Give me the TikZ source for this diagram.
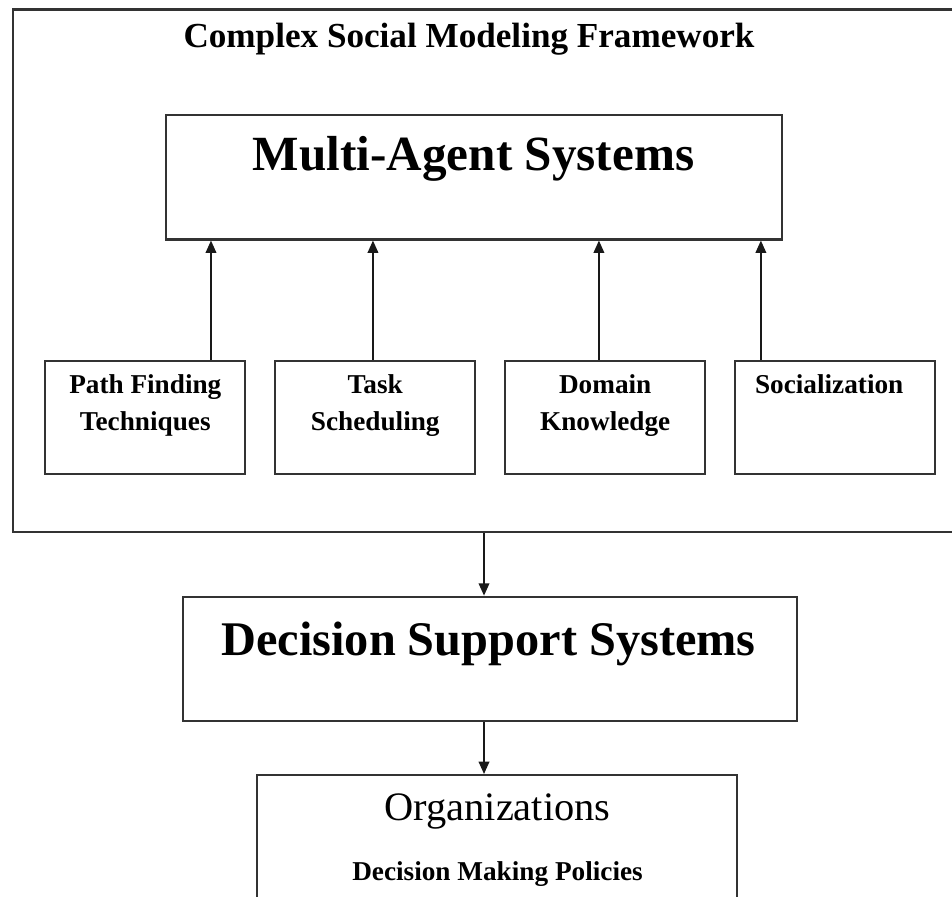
\documentclass[tikz,border=0pt]{standalone}
\usepackage{fontspec}
\setmainfont{Liberation Serif}
\usetikzlibrary{arrows.meta,positioning}

\begin{document}
\begin{tikzpicture}[x=0.02cm, y=-0.02cm, >={Triangle[length=7pt,width=6pt]}, node distance=4.6cm,
    box/.style={rectangle, draw=black!80, line width=1.2pt, inner sep=0pt},
    boxtext/.style={inner sep=0pt, align=center, font=\bfseries\fontsize{15.5}{21}\selectfont},
    arrow/.style={->, draw=black!90, line width=1pt}]
    \useasboundingbox (0,0) rectangle (952,896);
    \clip (0,0) rectangle (952,896);

    % outer framework
    \node [box, minimum width=19.54cm, minimum height=10.45cm](frame) at (501.5,270.75) {};
    \node [anchor=base, font=\bfseries\fontsize{20}{24}\selectfont](title) at (469,47) {Complex Social Modeling Framework};

    \node [box, minimum width=12.32cm, minimum height=2.49cm](mas) at (473.7,177.25) {};
    \node [anchor=base, font=\bfseries\fontsize{28}{32}\selectfont](mastext) at (473.5,170) {Multi-Agent Systems};

    % components
    \node [box, minimum width=4cm, minimum height=2.27cm](pf) at (145.3,417.3) {};
    \node [box, minimum width=4cm, minimum height=2.27cm](ts) [right of=pf] {};
    \node [box, minimum width=4cm, minimum height=2.27cm](dk) [right of=ts] {};
    \node [box, minimum width=4cm, minimum height=2.27cm](soc) [right of=dk] {};

    \node [boxtext](pftext) [below=0.3cm of pf.north] {Path Finding\\Techniques};
    \node [boxtext](tstext) [below=0.3cm of ts.north] {Task\\Scheduling};
    \node [boxtext](dktext) [below=0.3cm of dk.north] {Domain\\Knowledge};
    \node [boxtext](soctext) [below=0.3cm of soc.north, xshift=-0.12cm] {Socialization};

    \draw[arrow] ([xshift=1.314cm]pf.north) -- ([xshift=1.314cm]pf.north |- mas.south);
    \draw[arrow] ([xshift=-0.046cm]ts.north) -- ([xshift=-0.046cm]ts.north |- mas.south);
    \draw[arrow] ([xshift=-0.126cm]dk.north) -- ([xshift=-0.126cm]dk.north |- mas.south);
    \draw[arrow] ([xshift=-1.486cm]soc.north) -- ([xshift=-1.486cm]soc.north |- mas.south);

    % below the framework
    \node [box, minimum width=12.29cm, minimum height=2.486cm](dss) at (489.75,658.85) {};
    \node [anchor=base, font=\bfseries\fontsize{27.5}{32}\selectfont](dsstext) at (488.5,655) {Decision Support Systems};

    \node [box, minimum width=9.6cm, minimum height=4.5cm](org) at (497,887.5) {};
    \node [anchor=base, font=\fontsize{23}{27}\selectfont](orgtext) at (497.5,820) {Organizations};
    \node [anchor=base, font=\bfseries\fontsize{15.5}{21}\selectfont](dmptext) at (497.5,880) {Decision Making Policies};

    \draw[arrow] ([xshift=-0.115cm]dss.north |- frame.south) -- ([xshift=-0.115cm]dss.north);
    \draw[arrow] ([xshift=-0.26cm]org.north |- dss.south) -- ([xshift=-0.26cm]org.north);
\end{tikzpicture}
\end{document}
